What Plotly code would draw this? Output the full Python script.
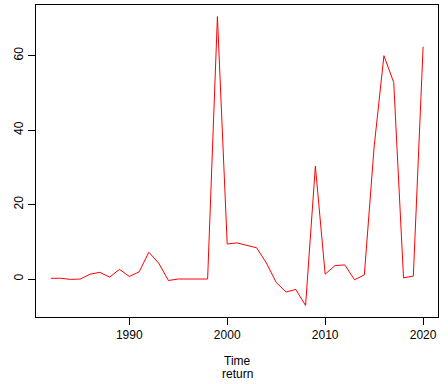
import plotly.graph_objects as go

# yearly series
years = list(range(1982, 2021))
returns = [0.2, 0.2, -0.1, 0.0, 1.3, 1.8, 0.5, 2.6, 0.7, 1.9,
           7.2, 4.3, -0.4, 0.0, 0.0, 0.0, 0.0, 70.5, 9.4, 9.7,
           9.1, 8.4, 4.3, -0.9, -3.5, -2.8, -7.1, 30.3, 1.3, 3.6,
           3.8, -0.2, 1.1, 35.5, 60.0, 52.8, 0.3, 0.8, 62.4]

x_ticks = [1990, 2000, 2010, 2020]
y_ticks = [0, 20, 40, 60]

fig = go.Figure()

fig.add_trace(go.Scatter(
    x=years, y=returns,
    mode='lines',
    line=dict(color='red', width=1),
    showlegend=False,
    hoverinfo='x+y'
))

axis_font = dict(family="Liberation Sans, Arial", size=12, color='black')

fig.update_layout(
    width=448, height=384,
    margin=dict(l=36, r=10, t=5, b=67),
    paper_bgcolor='white',
    plot_bgcolor='white',
    font=axis_font,
    xaxis=dict(range=[1980.48, 2021.52], tickvals=x_ticks, ticks='outside', ticklen=7,
               showline=True, mirror=True, linecolor='black', linewidth=1,
               showgrid=False, zeroline=False, tickfont=axis_font, tickcolor='black'),
    yaxis=dict(range=[-10.2, 73.6], tickvals=y_ticks, ticks='outside', ticklen=7,
               showline=True, mirror=True, linecolor='black', linewidth=1,
               showgrid=False, zeroline=False, tickangle=-90, tickfont=axis_font,
               tickcolor='black'),
    annotations=[
        dict(text="Time", xref='paper', yref='paper', x=0.5, y=0, yshift=-44,
             showarrow=False, font=axis_font, yanchor='middle'),
        dict(text="return", xref='paper', yref='paper', x=0.5, y=0, yshift=-57,
             showarrow=False, font=axis_font, yanchor='middle'),
    ]
)

# drop the browser's default body margin so the figure sits at the page corner
fig.write_html("out.html", config={'displayModeBar': False},
               post_script="document.body.style.margin='0';")
